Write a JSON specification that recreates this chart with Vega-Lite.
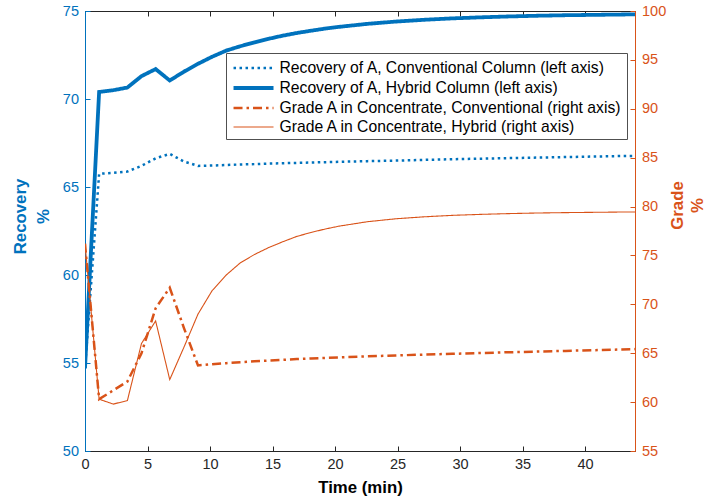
{
  "$schema": "https://vega.github.io/schema/vega-lite/v6.json",
  "width": 550,
  "height": 440,
  "autosize": {"type": "none"},
  "padding": {"left": 85, "top": 11, "right": 72, "bottom": 51},
  "background": "white",
  "config": {
    "font": "Liberation Sans",
    "view": {"stroke": "#262626", "strokeWidth": 1},
    "axis": {"grid": false, "labelFont": "Liberation Sans", "titleFont": "Liberation Sans"}
  },
  "datasets": {
    "series": [
      {"t": 0, "v": 54.7, "s": "Recovery of A, Conventional Column (left axis)"},
      {"t": 1.13, "v": 65.75, "s": "Recovery of A, Conventional Column (left axis)"},
      {"t": 2.26, "v": 65.8, "s": "Recovery of A, Conventional Column (left axis)"},
      {"t": 3.39, "v": 65.88, "s": "Recovery of A, Conventional Column (left axis)"},
      {"t": 4.52, "v": 66.2, "s": "Recovery of A, Conventional Column (left axis)"},
      {"t": 5.65, "v": 66.63, "s": "Recovery of A, Conventional Column (left axis)"},
      {"t": 6.78, "v": 66.88, "s": "Recovery of A, Conventional Column (left axis)"},
      {"t": 7.91, "v": 66.45, "s": "Recovery of A, Conventional Column (left axis)"},
      {"t": 9.04, "v": 66.2, "s": "Recovery of A, Conventional Column (left axis)"},
      {"t": 10.17, "v": 66.22, "s": "Recovery of A, Conventional Column (left axis)"},
      {"t": 11.3, "v": 66.25, "s": "Recovery of A, Conventional Column (left axis)"},
      {"t": 12.43, "v": 66.28, "s": "Recovery of A, Conventional Column (left axis)"},
      {"t": 13.56, "v": 66.3, "s": "Recovery of A, Conventional Column (left axis)"},
      {"t": 14.69, "v": 66.33, "s": "Recovery of A, Conventional Column (left axis)"},
      {"t": 15.82, "v": 66.35, "s": "Recovery of A, Conventional Column (left axis)"},
      {"t": 16.95, "v": 66.37, "s": "Recovery of A, Conventional Column (left axis)"},
      {"t": 18.08, "v": 66.39, "s": "Recovery of A, Conventional Column (left axis)"},
      {"t": 19.21, "v": 66.41, "s": "Recovery of A, Conventional Column (left axis)"},
      {"t": 20.34, "v": 66.43, "s": "Recovery of A, Conventional Column (left axis)"},
      {"t": 22.6, "v": 66.47, "s": "Recovery of A, Conventional Column (left axis)"},
      {"t": 24.86, "v": 66.5, "s": "Recovery of A, Conventional Column (left axis)"},
      {"t": 27.12, "v": 66.54, "s": "Recovery of A, Conventional Column (left axis)"},
      {"t": 29.38, "v": 66.58, "s": "Recovery of A, Conventional Column (left axis)"},
      {"t": 31.64, "v": 66.61, "s": "Recovery of A, Conventional Column (left axis)"},
      {"t": 33.9, "v": 66.64, "s": "Recovery of A, Conventional Column (left axis)"},
      {"t": 36.16, "v": 66.67, "s": "Recovery of A, Conventional Column (left axis)"},
      {"t": 38.42, "v": 66.7, "s": "Recovery of A, Conventional Column (left axis)"},
      {"t": 40.68, "v": 66.73, "s": "Recovery of A, Conventional Column (left axis)"},
      {"t": 42.94, "v": 66.76, "s": "Recovery of A, Conventional Column (left axis)"},
      {"t": 44, "v": 66.77, "s": "Recovery of A, Conventional Column (left axis)"},

      {"t": 0, "v": 54.7, "s": "Recovery of A, Hybrid Column (left axis)"},
      {"t": 1.13, "v": 70.4, "s": "Recovery of A, Hybrid Column (left axis)"},
      {"t": 2.26, "v": 70.5, "s": "Recovery of A, Hybrid Column (left axis)"},
      {"t": 3.39, "v": 70.65, "s": "Recovery of A, Hybrid Column (left axis)"},
      {"t": 4.52, "v": 71.3, "s": "Recovery of A, Hybrid Column (left axis)"},
      {"t": 5.65, "v": 71.7, "s": "Recovery of A, Hybrid Column (left axis)"},
      {"t": 6.78, "v": 71.05, "s": "Recovery of A, Hybrid Column (left axis)"},
      {"t": 7.91, "v": 71.55, "s": "Recovery of A, Hybrid Column (left axis)"},
      {"t": 9.04, "v": 72.0, "s": "Recovery of A, Hybrid Column (left axis)"},
      {"t": 10.17, "v": 72.4, "s": "Recovery of A, Hybrid Column (left axis)"},
      {"t": 11.3, "v": 72.75, "s": "Recovery of A, Hybrid Column (left axis)"},
      {"t": 12.43, "v": 73.0, "s": "Recovery of A, Hybrid Column (left axis)"},
      {"t": 13.56, "v": 73.22, "s": "Recovery of A, Hybrid Column (left axis)"},
      {"t": 14.69, "v": 73.42, "s": "Recovery of A, Hybrid Column (left axis)"},
      {"t": 15.82, "v": 73.6, "s": "Recovery of A, Hybrid Column (left axis)"},
      {"t": 16.95, "v": 73.75, "s": "Recovery of A, Hybrid Column (left axis)"},
      {"t": 18.08, "v": 73.88, "s": "Recovery of A, Hybrid Column (left axis)"},
      {"t": 19.21, "v": 74.0, "s": "Recovery of A, Hybrid Column (left axis)"},
      {"t": 20.34, "v": 74.1, "s": "Recovery of A, Hybrid Column (left axis)"},
      {"t": 22.6, "v": 74.27, "s": "Recovery of A, Hybrid Column (left axis)"},
      {"t": 24.86, "v": 74.4, "s": "Recovery of A, Hybrid Column (left axis)"},
      {"t": 27.12, "v": 74.5, "s": "Recovery of A, Hybrid Column (left axis)"},
      {"t": 29.38, "v": 74.58, "s": "Recovery of A, Hybrid Column (left axis)"},
      {"t": 31.64, "v": 74.64, "s": "Recovery of A, Hybrid Column (left axis)"},
      {"t": 33.9, "v": 74.69, "s": "Recovery of A, Hybrid Column (left axis)"},
      {"t": 36.16, "v": 74.73, "s": "Recovery of A, Hybrid Column (left axis)"},
      {"t": 38.42, "v": 74.76, "s": "Recovery of A, Hybrid Column (left axis)"},
      {"t": 40.68, "v": 74.78, "s": "Recovery of A, Hybrid Column (left axis)"},
      {"t": 42.94, "v": 74.8, "s": "Recovery of A, Hybrid Column (left axis)"},
      {"t": 44, "v": 74.81, "s": "Recovery of A, Hybrid Column (left axis)"},

      {"t": 0, "v": 76.2, "s": "Grade A in Concentrate, Conventional (right axis)"},
      {"t": 1.13, "v": 60.3, "s": "Grade A in Concentrate, Conventional (right axis)"},
      {"t": 2.26, "v": 61.2, "s": "Grade A in Concentrate, Conventional (right axis)"},
      {"t": 3.39, "v": 62.1, "s": "Grade A in Concentrate, Conventional (right axis)"},
      {"t": 4.52, "v": 65.0, "s": "Grade A in Concentrate, Conventional (right axis)"},
      {"t": 5.65, "v": 69.6, "s": "Grade A in Concentrate, Conventional (right axis)"},
      {"t": 6.78, "v": 71.7, "s": "Grade A in Concentrate, Conventional (right axis)"},
      {"t": 7.91, "v": 67.6, "s": "Grade A in Concentrate, Conventional (right axis)"},
      {"t": 9.04, "v": 63.75, "s": "Grade A in Concentrate, Conventional (right axis)"},
      {"t": 10.17, "v": 63.88, "s": "Grade A in Concentrate, Conventional (right axis)"},
      {"t": 11.3, "v": 63.98, "s": "Grade A in Concentrate, Conventional (right axis)"},
      {"t": 12.43, "v": 64.08, "s": "Grade A in Concentrate, Conventional (right axis)"},
      {"t": 13.56, "v": 64.17, "s": "Grade A in Concentrate, Conventional (right axis)"},
      {"t": 14.69, "v": 64.25, "s": "Grade A in Concentrate, Conventional (right axis)"},
      {"t": 15.82, "v": 64.32, "s": "Grade A in Concentrate, Conventional (right axis)"},
      {"t": 16.95, "v": 64.4, "s": "Grade A in Concentrate, Conventional (right axis)"},
      {"t": 18.08, "v": 64.46, "s": "Grade A in Concentrate, Conventional (right axis)"},
      {"t": 19.21, "v": 64.52, "s": "Grade A in Concentrate, Conventional (right axis)"},
      {"t": 20.34, "v": 64.58, "s": "Grade A in Concentrate, Conventional (right axis)"},
      {"t": 22.6, "v": 64.68, "s": "Grade A in Concentrate, Conventional (right axis)"},
      {"t": 24.86, "v": 64.77, "s": "Grade A in Concentrate, Conventional (right axis)"},
      {"t": 27.12, "v": 64.86, "s": "Grade A in Concentrate, Conventional (right axis)"},
      {"t": 29.38, "v": 64.94, "s": "Grade A in Concentrate, Conventional (right axis)"},
      {"t": 31.64, "v": 65.02, "s": "Grade A in Concentrate, Conventional (right axis)"},
      {"t": 33.9, "v": 65.1, "s": "Grade A in Concentrate, Conventional (right axis)"},
      {"t": 36.16, "v": 65.17, "s": "Grade A in Concentrate, Conventional (right axis)"},
      {"t": 38.42, "v": 65.24, "s": "Grade A in Concentrate, Conventional (right axis)"},
      {"t": 40.68, "v": 65.31, "s": "Grade A in Concentrate, Conventional (right axis)"},
      {"t": 42.94, "v": 65.38, "s": "Grade A in Concentrate, Conventional (right axis)"},
      {"t": 44, "v": 65.42, "s": "Grade A in Concentrate, Conventional (right axis)"},

      {"t": 0, "v": 76.2, "s": "Grade A in Concentrate, Hybrid (right axis)"},
      {"t": 1.13, "v": 60.3, "s": "Grade A in Concentrate, Hybrid (right axis)"},
      {"t": 2.26, "v": 59.8, "s": "Grade A in Concentrate, Hybrid (right axis)"},
      {"t": 3.39, "v": 60.15, "s": "Grade A in Concentrate, Hybrid (right axis)"},
      {"t": 4.52, "v": 66.0, "s": "Grade A in Concentrate, Hybrid (right axis)"},
      {"t": 5.65, "v": 68.3, "s": "Grade A in Concentrate, Hybrid (right axis)"},
      {"t": 6.78, "v": 62.3, "s": "Grade A in Concentrate, Hybrid (right axis)"},
      {"t": 7.91, "v": 65.6, "s": "Grade A in Concentrate, Hybrid (right axis)"},
      {"t": 9.04, "v": 69.0, "s": "Grade A in Concentrate, Hybrid (right axis)"},
      {"t": 10.17, "v": 71.4, "s": "Grade A in Concentrate, Hybrid (right axis)"},
      {"t": 11.3, "v": 73.0, "s": "Grade A in Concentrate, Hybrid (right axis)"},
      {"t": 12.43, "v": 74.25, "s": "Grade A in Concentrate, Hybrid (right axis)"},
      {"t": 13.56, "v": 75.1, "s": "Grade A in Concentrate, Hybrid (right axis)"},
      {"t": 14.69, "v": 75.8, "s": "Grade A in Concentrate, Hybrid (right axis)"},
      {"t": 15.82, "v": 76.4, "s": "Grade A in Concentrate, Hybrid (right axis)"},
      {"t": 16.95, "v": 76.95, "s": "Grade A in Concentrate, Hybrid (right axis)"},
      {"t": 18.08, "v": 77.35, "s": "Grade A in Concentrate, Hybrid (right axis)"},
      {"t": 19.21, "v": 77.7, "s": "Grade A in Concentrate, Hybrid (right axis)"},
      {"t": 20.34, "v": 78.0, "s": "Grade A in Concentrate, Hybrid (right axis)"},
      {"t": 22.6, "v": 78.45, "s": "Grade A in Concentrate, Hybrid (right axis)"},
      {"t": 24.86, "v": 78.75, "s": "Grade A in Concentrate, Hybrid (right axis)"},
      {"t": 27.12, "v": 78.95, "s": "Grade A in Concentrate, Hybrid (right axis)"},
      {"t": 29.38, "v": 79.1, "s": "Grade A in Concentrate, Hybrid (right axis)"},
      {"t": 31.64, "v": 79.2, "s": "Grade A in Concentrate, Hybrid (right axis)"},
      {"t": 33.9, "v": 79.28, "s": "Grade A in Concentrate, Hybrid (right axis)"},
      {"t": 36.16, "v": 79.34, "s": "Grade A in Concentrate, Hybrid (right axis)"},
      {"t": 38.42, "v": 79.38, "s": "Grade A in Concentrate, Hybrid (right axis)"},
      {"t": 40.68, "v": 79.41, "s": "Grade A in Concentrate, Hybrid (right axis)"},
      {"t": 42.94, "v": 79.44, "s": "Grade A in Concentrate, Hybrid (right axis)"},
      {"t": 44, "v": 79.45, "s": "Grade A in Concentrate, Hybrid (right axis)"}
    ]
  },
  "data": {"name": "series"},
  "resolve": {"scale": {"y": "independent"}, "axis": {"x": "independent"}},
  "layer": [
    {
      "transform": [{"filter": "indexof(datum.s, 'Recovery') === 0"}],
      "mark": {"type": "line", "strokeCap": "butt", "strokeJoin": "miter", "clip": true},
      "encoding": {
        "x": {
          "field": "t", "type": "quantitative",
          "scale": {"domain": [0, 44], "nice": false, "zero": false},
          "axis": {
            "orient": "bottom", "values": [0, 5, 10, 15, 20, 25, 30, 35, 40],
            "title": "Time (min)", "titleFontWeight": "bold", "titleFontSize": 16.8, "titleColor": "#000000",
            "titleY": 36, "titleBaseline": "middle",
            "domainColor": "#262626", "tickColor": "#262626", "labelColor": "#262626",
            "tickSize": -5, "labelPadding": 11, "labelFontSize": 14.5, "labelFlush": false
          }
        },
        "y": {
          "field": "v", "type": "quantitative",
          "scale": {"domain": [50, 75], "nice": false, "zero": false},
          "axis": {
            "orient": "left", "values": [50, 55, 60, 65, 70, 75],
            "title": ["Recovery", "%"], "titleFontWeight": "bold", "titleFontSize": 16.8,
            "titleColor": "#0072BD", "titleAngle": 270, "titleAlign": "center", "titleBaseline": "middle",
            "titleX": -65, "titleY": 205, "titleLineHeight": 23,
            "domainColor": "#0072BD", "tickColor": "#0072BD", "labelColor": "#0072BD",
            "tickSize": -5, "labelPadding": 11.5, "labelFontSize": 14.5, "labelFlush": false
          }
        },
        "color": {
          "field": "s", "type": "nominal",
          "scale": {
            "domain": ["Recovery of A, Conventional Column (left axis)", "Recovery of A, Hybrid Column (left axis)", "Grade A in Concentrate, Conventional (right axis)", "Grade A in Concentrate, Hybrid (right axis)"],
            "range": ["#0072BD", "#0072BD", "#D95319", "#D95319"]
          },
          "legend": {
            "title": null, "orient": "none", "legendX": 141, "legendY": 42,
            "symbolType": "stroke", "symbolSize": 361, "labelFontSize": 15.7, "labelColor": "#000000",
            "labelFont": "Liberation Sans", "labelOffset": 26.5, "rowPadding": 0.5,
            "padding": 4, "strokeColor": "#505050", "fillColor": "white", "labelLimit": 500,
            "encode": {"symbols": {"update": {"shape": {"value": "M-0.84,0H3.37"}}}}
          }
        },
        "strokeDash": {
          "field": "s", "type": "nominal",
          "scale": {
            "domain": ["Recovery of A, Conventional Column (left axis)", "Recovery of A, Hybrid Column (left axis)", "Grade A in Concentrate, Conventional (right axis)", "Grade A in Concentrate, Hybrid (right axis)"],
            "range": [[2.5, 3.5], [1, 0], [9, 4, 2.5, 4], [1, 0]]
          },
          "legend": null
        },
        "strokeWidth": {
          "field": "s", "type": "nominal",
          "scale": {
            "type": "ordinal",
            "domain": ["Recovery of A, Conventional Column (left axis)", "Recovery of A, Hybrid Column (left axis)", "Grade A in Concentrate, Conventional (right axis)", "Grade A in Concentrate, Hybrid (right axis)"],
            "range": [2.5, 3.8, 2.5, 1.1]
          },
          "legend": null
        },
        "order": {"field": "t", "type": "quantitative"}
      }
    },
    {
      "transform": [{"filter": "indexof(datum.s, 'Grade') === 0"}],
      "mark": {"type": "line", "strokeCap": "butt", "strokeJoin": "miter", "clip": true},
      "encoding": {
        "x": {
          "field": "t", "type": "quantitative",
          "scale": {"domain": [0, 44], "nice": false, "zero": false},
          "axis": {
            "orient": "top", "values": [0, 5, 10, 15, 20, 25, 30, 35, 40],
            "title": null, "labels": false,
            "domainColor": "#262626", "tickColor": "#262626", "tickSize": -5
          }
        },
        "y": {
          "field": "v", "type": "quantitative",
          "scale": {"domain": [55, 100], "nice": false, "zero": false},
          "axis": {
            "orient": "right", "values": [55, 60, 65, 70, 75, 80, 85, 90, 95, 100],
            "title": ["Grade", "%"], "titleFontWeight": "bold", "titleFontSize": 16.8,
            "titleColor": "#D95319", "titleAngle": 270, "titleAlign": "center", "titleBaseline": "middle",
            "titleX": 42, "titleY": 194, "titleLineHeight": 20,
            "domainColor": "#D95319", "tickColor": "#D95319", "labelColor": "#D95319",
            "tickSize": -5, "labelPadding": 11.5, "labelFontSize": 14.5, "labelFlush": false
          }
        },
        "color": {
          "field": "s", "type": "nominal",
          "scale": {
            "domain": ["Recovery of A, Conventional Column (left axis)", "Recovery of A, Hybrid Column (left axis)", "Grade A in Concentrate, Conventional (right axis)", "Grade A in Concentrate, Hybrid (right axis)"],
            "range": ["#0072BD", "#0072BD", "#D95319", "#D95319"]
          },
          "legend": {
            "title": null, "orient": "none", "legendX": 141, "legendY": 42,
            "symbolType": "stroke", "symbolSize": 361, "labelFontSize": 15.7, "labelColor": "#000000",
            "labelFont": "Liberation Sans", "labelOffset": 26.5, "rowPadding": 0.5,
            "padding": 4, "strokeColor": "#505050", "fillColor": "white", "labelLimit": 500,
            "encode": {"symbols": {"update": {"shape": {"value": "M-0.84,0H3.37"}}}}
          }
        },
        "strokeDash": {
          "field": "s", "type": "nominal",
          "scale": {
            "domain": ["Recovery of A, Conventional Column (left axis)", "Recovery of A, Hybrid Column (left axis)", "Grade A in Concentrate, Conventional (right axis)", "Grade A in Concentrate, Hybrid (right axis)"],
            "range": [[2.5, 3.5], [1, 0], [9, 4, 2.5, 4], [1, 0]]
          },
          "legend": null
        },
        "strokeWidth": {
          "field": "s", "type": "nominal",
          "scale": {
            "type": "ordinal",
            "domain": ["Recovery of A, Conventional Column (left axis)", "Recovery of A, Hybrid Column (left axis)", "Grade A in Concentrate, Conventional (right axis)", "Grade A in Concentrate, Hybrid (right axis)"],
            "range": [2.5, 3.8, 2.5, 1.1]
          },
          "legend": null
        },
        "order": {"field": "t", "type": "quantitative"}
      }
    }
  ]
}
